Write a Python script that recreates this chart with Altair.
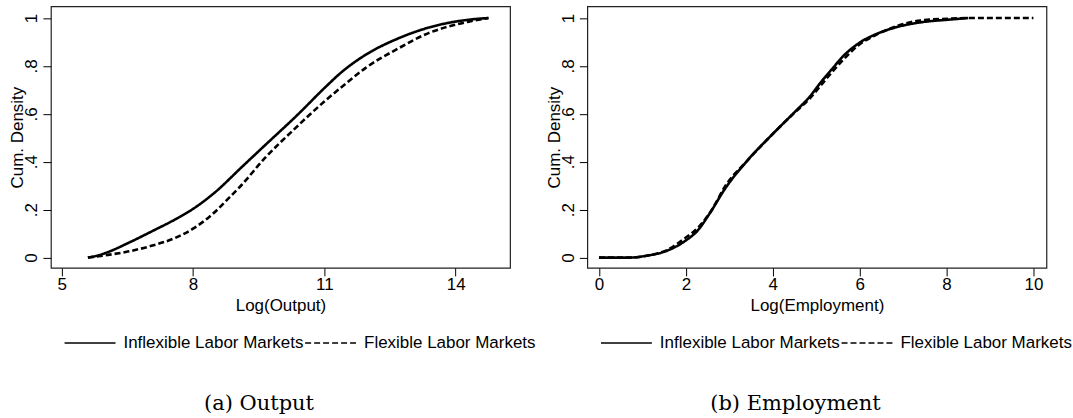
import altair as alt
import pandas as pd

series_names = ["Inflexible Labor Markets", "Flexible Labor Markets"]

# Panel (a): Log(Output)
out_inflex_x = [5.60, 5.85, 6.10, 6.51, 7.12, 7.58, 8.04, 8.50, 9.11, 9.64, 10.40, 11.01, 11.40, 11.93, 12.69, 13.38, 13.84, 14.30, 14.75]
out_inflex_y = [0.0, 0.010, 0.026, 0.060, 0.115, 0.158, 0.208, 0.272, 0.377, 0.468, 0.598, 0.709, 0.775, 0.845, 0.915, 0.960, 0.980, 0.993, 1.0]
out_flex_x = [5.60, 6.05, 6.51, 7.05, 7.58, 8.04, 8.50, 8.80, 9.11, 9.64, 10.25, 11.01, 11.55, 11.93, 12.69, 13.38, 13.84, 14.30, 14.75]
out_flex_y = [0.0, 0.011, 0.025, 0.049, 0.081, 0.125, 0.190, 0.245, 0.303, 0.415, 0.525, 0.653, 0.735, 0.790, 0.873, 0.937, 0.965, 0.985, 1.0]

# Panel (b): Log(Employment)
emp_inflex_x = [0.0, 0.70, 1.10, 1.57, 1.97, 2.28, 2.55, 2.91, 3.39, 4.02, 4.49, 4.85, 5.12, 5.40, 5.59, 5.98, 6.38, 6.85, 7.40, 8.03, 8.50]
emp_inflex_y = [0.0, 0.0, 0.008, 0.029, 0.068, 0.115, 0.185, 0.290, 0.400, 0.520, 0.605, 0.672, 0.735, 0.795, 0.835, 0.895, 0.933, 0.962, 0.982, 0.993, 1.0]
emp_flex_x = [0.0, 0.70, 1.10, 1.57, 1.97, 2.28, 2.60, 2.91, 3.39, 4.02, 4.49, 4.85, 5.12, 5.59, 5.98, 6.38, 6.85, 7.40, 8.03, 8.50, 10.0]
emp_flex_y = [0.0, 0.0, 0.008, 0.032, 0.080, 0.125, 0.200, 0.300, 0.400, 0.520, 0.603, 0.664, 0.722, 0.820, 0.888, 0.930, 0.966, 0.990, 0.997, 1.0, 1.0]

out_ticks = [5, 8, 11, 14]
emp_ticks = [0, 2, 4, 6, 8, 10]
y_ticks = [0, 0.2, 0.4, 0.6, 0.8, 1]


def make_df(xa, ya, xb, yb):
    a = pd.DataFrame({"x": xa, "y": ya, "series": series_names[0]})
    b = pd.DataFrame({"x": xb, "y": yb, "series": series_names[1]})
    return pd.concat([a, b], ignore_index=True)


W, H = 460, 262
SANS = "Liberation Sans"
FS = 17


def panel(df, xdom, xticks, xtitle, caption):
    return alt.Chart(df).mark_line(
        color="black", strokeWidth=2.6, interpolate="monotone"
    ).encode(
        x=alt.X("x:Q",
                scale=alt.Scale(domain=xdom, nice=False, zero=False),
                axis=alt.Axis(values=xticks, title=xtitle, format="d",
                              domain=False, grid=False,
                              tickColor="black", tickSize=8, tickWidth=1,
                              labelFont=SANS, labelFontSize=FS, labelColor="black",
                              titleFont=SANS, titleFontSize=FS, titleFontWeight="normal",
                              titleColor="black",
                              labelPadding=0.5, titlePadding=5)),
        y=alt.Y("y:Q",
                scale=alt.Scale(domain=[-0.043, 1.0487], nice=False, zero=False),
                axis=alt.Axis(values=y_ticks, title="Cum. Density",
                              domain=False, grid=False,
                              tickColor="black", tickSize=8, tickWidth=1,
                              labelFont=SANS, labelFontSize=FS, labelColor="black",
                              titleFont=SANS, titleFontSize=FS, titleFontWeight="normal",
                              titleColor="black",
                              labelExpr="datum.value == 0 ? '0' : (datum.value >= 1 ? '1' : substring(format(datum.value, '.1f'), 1))",
                              labelAngle=270, labelAlign="center", labelBaseline="alphabetic",
                              labelPadding=6,
                              titleX=-33, titleY=H / 2, titleAngle=270,
                              titleAlign="center", titleBaseline="middle")),
        strokeDash=alt.StrokeDash(
            "series:N",
            scale=alt.Scale(domain=series_names, range=[[1, 0], [6, 3]]),
            sort=series_names,
            legend=alt.Legend(
                orient="none", legendX=12.7, legendY=310.5, direction="horizontal",
                title=None, symbolType="stroke", symbolSize=2601,
                symbolStrokeWidth=1.5, symbolStrokeColor="black",
                labelFont=SANS, labelFontSize=FS, labelColor="black",
                labelOffset=7, columnPadding=-3, labelLimit=400, padding=0,
            ),
        ),
    ).properties(
        width=W, height=H,
        title=alt.TitleParams(caption, orient="bottom", anchor="middle",
                              font="DejaVu Serif", fontSize=21, fontWeight="normal",
                              color="black", offset=42, dx=-21.5),
    )


left = panel(make_df(out_inflex_x, out_inflex_y, out_flex_x, out_flex_y),
             [4.755, 15.243], out_ticks, "Log(Output)", "(a) Output")
right = panel(make_df(emp_inflex_x, emp_inflex_y, emp_flex_x, emp_flex_y),
              [-0.27, 10.3], emp_ticks, "Log(Employment)", "(b) Employment")

chart = alt.hconcat(left, right, spacing=77.4, bounds="flush").resolve_legend(
    strokeDash="independent"
).properties(
    padding={"left": 8, "top": 5, "right": 0, "bottom": 0},
    background="white",
).configure_view(
    stroke="#222222", strokeWidth=1.2
)

chart.save("out.html", embed_options={"renderer": "svg", "actions": False})
